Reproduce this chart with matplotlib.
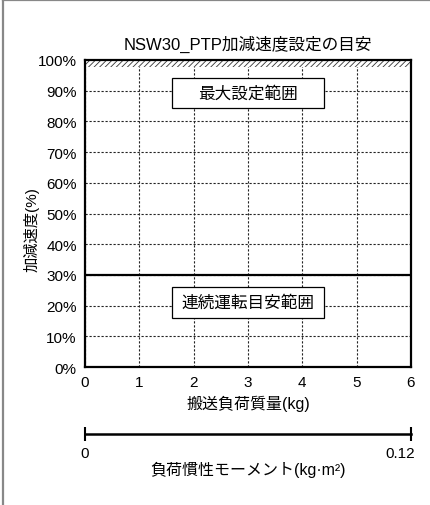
import matplotlib
matplotlib.use('Agg')
import matplotlib.pyplot as plt
from matplotlib.patches import Rectangle
from matplotlib.lines import Line2D
from matplotlib.transforms import ScaledTranslation

plt.rcParams['font.family'] = ['Liberation Sans', 'Noto Sans CJK JP', 'DejaVu Sans']
plt.rcParams['hatch.linewidth'] = 0.6

# chart data
mass_ticks = [0, 1, 2, 3, 4, 5, 6]
accel_ticks = [0, 10, 20, 30, 40, 50, 60, 70, 80, 90, 100]
inertia_range = [0, 0.12]
max_band = [97.7, 100]      # hatched band at the top of the max range
cont_limit = 30             # continuous operation limit (%)
regions = ['最大設定範囲', '連続運転目安範囲']

fig = plt.figure(figsize=(4.31, 5.06), dpi=100)
ax = fig.add_axes([85 / 431, 1 - 368 / 506, 326 / 431, 307 / 506])

ax.set_xlim(mass_ticks[0], mass_ticks[-1])
ax.set_ylim(accel_ticks[0], accel_ticks[-1])
ax.set_xticks(mass_ticks)
ax.set_yticks(accel_ticks)
ax.set_yticklabels([f'{v}%' for v in accel_ticks])
ax.tick_params(length=0, labelsize=11, pad=6)

ax.set_axisbelow(True)
ax.grid(True, color='#222222', linestyle=(0, (2.0, 1.6)), linewidth=0.8)
for s in ax.spines.values():
    s.set_linewidth(1.6)

# hatched strip at 100%
ax.axhspan(max_band[0], max_band[1], facecolor='white', edgecolor='#333333',
           hatch='//////', linewidth=0, zorder=1)
# continuous limit line
ax.axhline(cont_limit, color='black', linewidth=1.6, zorder=3)

# region labels in boxes
for label, yc in zip(regions, [89.3, 21.0]):
    ax.add_patch(Rectangle((1.6, yc - 4.9), 2.8, 9.8, facecolor='white',
                           edgecolor='black', linewidth=0.9, zorder=4))
    ax.text(3, yc, label, ha='center', va='center', fontsize=12, zorder=5)

ax.set_title('NSW30_PTP加減速度設定の目安', fontsize=12, pad=8)
ax.set_xlabel('搬送負荷質量(kg)', fontsize=11.5, labelpad=4)
ax.set_ylabel('加減速度(%)', fontsize=11)
ax.yaxis.set_label_coords(-0.14, 0.45)

# second scale: load inertia
ax2 = fig.add_axes([85 / 431, 1 - 435 / 506, 326 / 431, 0.001])
ax2.set_xlim(inertia_range)
ax2.set_xticks(inertia_range)
ax2.set_xticklabels(['0', '0.12'])
ax2.set_yticks([])
for k in ['top', 'left', 'right']:
    ax2.spines[k].set_visible(False)
ax2.spines['bottom'].set_linewidth(1.8)
ax2.tick_params(axis='x', direction='inout', length=10, width=1.5, labelsize=11, pad=4)
ax2.patch.set_visible(False)
ax2.set_xlabel('負荷慣性モーメント(kg·m²)', fontsize=11.5, labelpad=0)
last = ax2.get_xticklabels()[-1]
last.set_ha('right')
last.set_transform(last.get_transform() + ScaledTranslation(4 / 100, 0, fig.dpi_scale_trans))

# outer frame (top and left edges visible)
fig.add_artist(Line2D([3.5 / 431, 3.5 / 431], [0, 1 - 1 / 506], color='#888888', linewidth=1.6))
fig.add_artist(Line2D([3.5 / 431, 1], [1 - 1 / 506, 1 - 1 / 506], color='#888888', linewidth=1.6))

fig.savefig('out.png', dpi=100)
